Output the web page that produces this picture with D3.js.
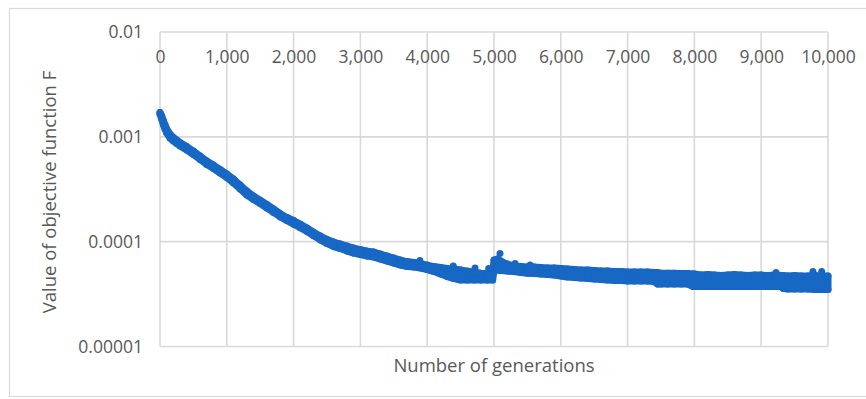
<!DOCTYPE html>
<html>
<head>
<meta charset="utf-8">
<script src="https://cdn.jsdelivr.net/npm/d3@7"></script>
<style>
  html, body { margin: 0; padding: 0; background: #ffffff; }
  svg { display: block; }
  text { font-family: "Open Sans", "Noto Sans", sans-serif; fill: #595959; }
</style>
</head>
<body>
<svg id="chart" width="866" height="399"></svg>
<script>
// Generations at which the best objective value was recorded
const gens = [
  0, 25, 50, 75, 100, 150, 200, 250, 300, 400, 500, 600, 700, 800, 900,
  1000, 1100, 1200, 1300, 1400, 1500, 1600, 1700, 1800, 1900,
  2000, 2100, 2200, 2300, 2400, 2500, 2600, 2700, 2800, 2900,
  3000, 3100, 3200, 3300, 3400, 3500, 3600, 3700, 3800, 3900,
  4000, 4100, 4200, 4300, 4400, 4500, 4600, 4700, 4800, 4900, 4980,
  5000, 5050, 5100, 5200, 5300, 5400, 5500, 5600, 5700, 5800, 5900,
  6000, 6100, 6200, 6300, 6400, 6500, 6600, 6700, 6800, 6900,
  7000, 7100, 7200, 7300, 7400, 7450, 7500, 7600, 7700, 7800, 7900, 7980,
  8000, 8100, 8200, 8300, 8400, 8500, 8600, 8700, 8800, 8900,
  9000, 9100, 9200, 9300, 9330, 9400, 9500, 9600, 9700, 9800, 9900, 10000
];

// Upper edge of the population's F values at each generation
const fHigh = [
  1.71e-3, 1.58e-3, 1.43e-3, 1.30e-3, 1.19e-3, 1.06e-3, 9.85e-4, 9.32e-4, 8.82e-4, 8.08e-4, 7.32e-4, 6.56e-4, 5.88e-4, 5.38e-4, 4.88e-4,
  4.42e-4, 3.96e-4, 3.47e-4, 3.04e-4, 2.72e-4, 2.49e-4, 2.26e-4, 2.05e-4, 1.85e-4, 1.70e-4,
  1.59e-4, 1.47e-4, 1.35e-4, 1.23e-4, 1.13e-4, 1.05e-4, 9.91e-5, 9.49e-5, 9.08e-5, 8.69e-5,
  8.41e-5, 8.13e-5, 7.96e-5, 7.61e-5, 7.29e-5, 6.97e-5, 6.67e-5, 6.46e-5, 6.32e-5, 6.18e-5,
  5.98e-5, 5.79e-5, 5.66e-5, 5.54e-5, 5.48e-5, 5.36e-5, 5.24e-5, 5.13e-5, 5.01e-5, 4.96e-5, 4.96e-5,
  6.67e-5, 6.82e-5, 6.53e-5, 6.11e-5, 5.85e-5, 5.79e-5, 5.72e-5, 5.72e-5, 5.66e-5, 5.60e-5, 5.60e-5,
  5.54e-5, 5.48e-5, 5.42e-5, 5.36e-5, 5.36e-5, 5.30e-5, 5.24e-5, 5.24e-5, 5.19e-5, 5.19e-5,
  5.13e-5, 5.13e-5, 5.13e-5, 5.13e-5, 5.07e-5, 5.07e-5, 5.01e-5, 5.01e-5, 5.01e-5, 4.96e-5, 4.96e-5, 4.91e-5,
  4.91e-5, 4.80e-5, 4.85e-5, 4.80e-5, 4.75e-5, 4.80e-5, 4.85e-5, 4.80e-5, 4.75e-5, 4.80e-5,
  4.80e-5, 4.75e-5, 4.80e-5, 4.75e-5, 4.75e-5, 4.70e-5, 4.75e-5, 4.70e-5, 4.70e-5, 4.75e-5, 4.70e-5, 4.70e-5
];

// Lower edge of the population's F values at each generation
const fLow = [
  1.65e-3, 1.48e-3, 1.31e-3, 1.19e-3, 1.09e-3, 9.74e-4, 9.12e-4, 8.63e-4, 8.17e-4, 7.48e-4, 6.78e-4, 6.07e-4, 5.44e-4, 4.98e-4, 4.52e-4,
  4.09e-4, 3.63e-4, 3.18e-4, 2.78e-4, 2.52e-4, 2.31e-4, 2.09e-4, 1.90e-4, 1.72e-4, 1.59e-4,
  1.47e-4, 1.36e-4, 1.25e-4, 1.14e-4, 1.04e-4, 9.59e-5, 8.98e-5, 8.59e-5, 8.13e-5, 7.78e-5,
  7.53e-5, 7.29e-5, 7.13e-5, 6.82e-5, 6.53e-5, 6.25e-5, 5.98e-5, 5.79e-5, 5.72e-5, 5.60e-5,
  5.42e-5, 5.19e-5, 4.91e-5, 4.65e-5, 4.45e-5, 4.30e-5, 4.30e-5, 4.30e-5, 4.30e-5, 4.30e-5, 4.30e-5,
  5.36e-5, 5.36e-5, 5.30e-5, 5.24e-5, 5.19e-5, 5.07e-5, 5.01e-5, 4.96e-5, 4.91e-5, 4.85e-5, 4.80e-5,
  4.70e-5, 4.59e-5, 4.54e-5, 4.49e-5, 4.45e-5, 4.40e-5, 4.35e-5, 4.30e-5, 4.25e-5, 4.25e-5,
  4.21e-5, 4.21e-5, 4.21e-5, 4.21e-5, 4.16e-5, 3.94e-5, 3.94e-5, 3.94e-5, 3.94e-5, 3.94e-5, 3.94e-5, 3.73e-5,
  3.73e-5, 3.73e-5, 3.73e-5, 3.73e-5, 3.73e-5, 3.73e-5, 3.73e-5, 3.73e-5, 3.73e-5, 3.73e-5,
  3.73e-5, 3.73e-5, 3.73e-5, 3.73e-5, 3.57e-5, 3.53e-5, 3.53e-5, 3.53e-5, 3.53e-5, 3.49e-5, 3.49e-5, 3.49e-5
];

// Isolated individuals standing out above the main band
const outlierGens = [3890, 4390, 4716, 4920, 5090, 5315, 5540, 9222, 9775, 9906];
const outlierF    = [6.60e-5, 5.85e-5, 5.60e-5, 5.54e-5, 7.70e-5, 6.18e-5, 5.98e-5, 5.07e-5, 5.19e-5, 5.19e-5];

// Axis ticks and labels
const xTicks = [0, 1000, 2000, 3000, 4000, 5000, 6000, 7000, 8000, 9000, 10000];
const yTicks = [1e-5, 1e-4, 1e-3, 1e-2];
const yTickLabels = ["0.00001", "0.0001", "0.001", "0.01"];
const xTitle = "Number of generations";
const yTitle = "Value of objective function F";

const svg = d3.select("#chart");
const plot = { left: 160, right: 828, top: 32, bottom: 346.5 };
const markColor = "#1767c4";
const gridColor = "#d9d9d9";
const tickFont = "17.5px";
const titleFont = "18.5px";

const x = d3.scaleLinear().domain([0, 10000]).range([plot.left, plot.right]);
const y = d3.scaleLog().domain([1e-5, 1e-2]).range([plot.bottom, plot.top]);

// Outer chart frame
svg.append("rect")
  .attr("x", 9.5).attr("y", 8.5)
  .attr("width", 880).attr("height", 388)
  .attr("fill", "none").attr("stroke", gridColor).attr("stroke-width", 1.2);

// Gridlines
const grid = svg.append("g").attr("stroke", gridColor).attr("stroke-width", 1.6);
grid.selectAll("line.h").data(yTicks).join("line")
  .attr("x1", plot.left).attr("x2", plot.right)
  .attr("y1", d => y(d)).attr("y2", d => y(d));
grid.selectAll("line.v").data(xTicks).join("line")
  .attr("x1", d => x(d)).attr("x2", d => x(d))
  .attr("y1", plot.top).attr("y2", plot.bottom);

// X axis labels sit just under the top (0.01) line
const xAxis = d3.axisBottom(x).tickValues(xTicks).tickFormat(d3.format(",")).tickSize(0).tickPadding(19);
const gx = svg.append("g").attr("transform", `translate(0,${plot.top})`).call(xAxis);
gx.select(".domain").remove();
gx.selectAll("text").style("font-size", tickFont).style("font-family", null).attr("fill", "#595959");

const yAxis = d3.axisLeft(y).tickValues(yTicks)
  .tickFormat((d, i) => yTickLabels[i]).tickSize(0).tickPadding(17);
const gy = svg.append("g").attr("transform", `translate(${plot.left},0)`).call(yAxis);
gy.select(".domain").remove();
gy.selectAll("text").style("font-size", tickFont).attr("fill", "#595959");
gx.attr("font-family", null); gy.attr("font-family", null);

// Population band: filled between upper and lower edges
const band = gens.map((g, i) => ({ g, hi: fHigh[i], lo: fLow[i] }));
const area = d3.area()
  .x(d => x(d.g))
  .y0(d => y(d.lo))
  .y1(d => y(d.hi));
svg.append("path")
  .datum(band)
  .attr("d", area)
  .attr("fill", markColor)
  .attr("stroke", markColor)
  .attr("stroke-width", 7)
  .attr("stroke-linejoin", "round");

// Individual markers on both edges of the band
const pts = band.flatMap(d => [{ g: d.g, f: d.hi }, { g: d.g, f: d.lo }])
  .concat(outlierGens.map((g, i) => ({ g, f: outlierF[i] })));
svg.append("g").selectAll("circle").data(pts).join("circle")
  .attr("cx", d => x(d.g))
  .attr("cy", d => y(d.f))
  .attr("r", 3.5)
  .attr("fill", markColor);

// Axis titles
svg.append("text")
  .attr("x", 494).attr("y", 372)
  .attr("text-anchor", "middle")
  .style("font-size", titleFont)
  .text(xTitle);

svg.append("text")
  .attr("transform", "translate(56,192) rotate(-90)")
  .attr("text-anchor", "middle")
  .style("font-size", titleFont)
  .text(yTitle);
</script>
</body>
</html>
